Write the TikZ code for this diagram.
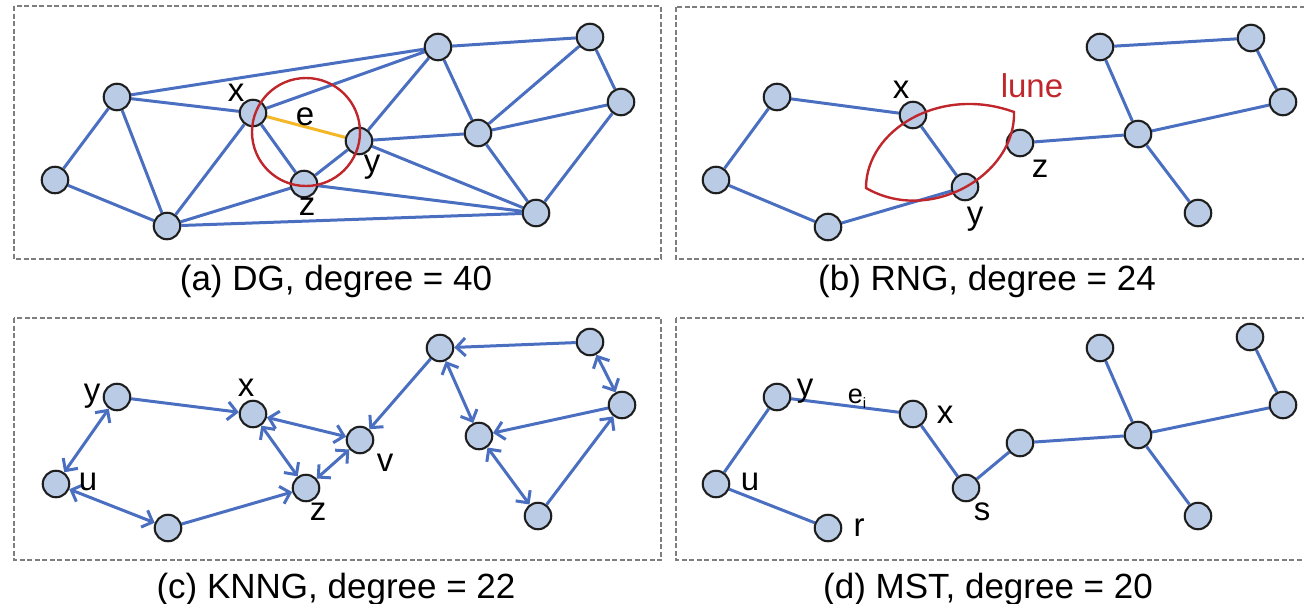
\documentclass[tikz,border=0pt]{standalone}
\usepackage{fontspec}
\setmainfont{Liberation Sans}
\usetikzlibrary{arrows.meta}
\pgfdeclarelayer{bg}
\pgfsetlayers{bg,main}
\definecolor{edgeblue}{HTML}{4A6FC0}
\definecolor{vfill}{HTML}{B9CBE5}
\definecolor{vline}{HTML}{1E1E1E}
\definecolor{boxgray}{HTML}{7E7E7E}
\definecolor{markred}{HTML}{C0272D}
\definecolor{edgeyellow}{HTML}{F4B728}
\begin{document}
\begin{tikzpicture}[x=1pt,y=-1pt,
  vert/.style={circle,draw=vline,line width=2.1pt,fill=vfill,minimum size=26.5pt,inner sep=0pt},
  lnk/.style={draw=edgeblue,line width=3pt},
  arr/.style={lnk,-{Straight Barb[length=9pt,width=18pt]}},
  biarr/.style={lnk,{Straight Barb[length=9pt,width=18pt]}-{Straight Barb[length=9pt,width=18pt]}},
  panel/.style={draw=boxgray,line width=2.6pt,dash pattern=on 5pt off 2.5pt},
  lbl/.style={font=\fontsize{33}{33}\selectfont,anchor=base,inner sep=0pt},
  captxt/.style={font=\fontsize{35}{35}\selectfont,anchor=base,inner sep=0pt},
]
\useasboundingbox (0,0) rectangle (1304,603);

% panel frames
\draw[panel] (14,6) rectangle (661,259);
\draw[panel] (676,7) rectangle (1312,259);
\draw[panel] (14,318) rectangle (661,560);
\draw[panel] (676,318) rectangle (1312,560);

% ---------- (a) Delaunay graph ----------
\node[vert] (a1) at (55,180) {};
\node[vert] (a2) at (117,97) {};
\node[vert] (a3) at (167,226) {};
\node[vert] (ax) at (253,113) {};
\node[vert] (ay) at (359,141) {};
\node[vert] (az) at (304,184) {};
\node[vert] (a7) at (438,47) {};
\node[vert] (a8) at (478,133) {};
\node[vert] (a9) at (536,213) {};
\node[vert] (a10) at (590,37) {};
\node[vert] (a11) at (621,102) {};
\begin{pgfonlayer}{bg}
\draw[lnk] (a1)--(a2) (a1)--(a3) (a2)--(a3) (a2)--(ax) (a2)--(a7)
  (a3)--(ax) (a3)--(az) (a3)--(a9) (ax)--(a7) (ax)--(az)
  (az)--(ay) (az)--(a9) (ay)--(a7) (ay)--(a8) (ay)--(a9)
  (a7)--(a10) (a7)--(a8) (a8)--(a10) (a8)--(a11) (a8)--(a9)
  (a9)--(a11) (a10)--(a11);
\draw[draw=edgeyellow,line width=3pt] (ax)--(ay);
\end{pgfonlayer}
\draw[markred,line width=2.4pt] (306,132) circle[radius=54];
\node[lbl] (lax) at (236,101) {x};
\node[lbl] (lae) at (305,125) {e};
\node[lbl] (lay) at (372,172) {y};
\node[lbl] (laz) at (307,215) {z};
\node[captxt] (capa) at (336,290) {(a) DG, degree = 40};

% ---------- (b) relative neighborhood graph ----------
\node[vert] (b1) at (716,180) {};
\node[vert] (b2) at (777,97) {};
\node[vert] (b3) at (828,227) {};
\node[vert] (bx) at (913,115) {};
\node[vert] (by) at (965,187) {};
\node[vert] (bz) at (1020,143) {};
\node[vert] (b7) at (1100,47) {};
\node[vert] (b8) at (1138,134) {};
\node[vert] (b9) at (1198,213) {};
\node[vert] (b10) at (1251,38) {};
\node[vert] (b11) at (1283,102) {};
\begin{pgfonlayer}{bg}
\draw[lnk] (b1)--(b2) (b1)--(b3) (b2)--(bx) (bx)--(by) (b3)--(by)
  (bz)--(b8) (b7)--(b8) (b7)--(b10) (b10)--(b11) (b11)--(b8) (b8)--(b9);
\end{pgfonlayer}
\draw[markred,line width=2.4pt] (866,188) .. controls (866,130) and (940,85) .. (1014,112)
  .. controls (1016,175) and (930,225) .. (866,188) -- cycle;
\node[lbl] (lbx) at (901,98) {x};
\node[lbl] (lby) at (975,224) {y};
\node[lbl] (lbz) at (1040,177) {z};
\node[lbl,text=markred] (lune) at (1032,97) {lune};
\node[captxt] (capb) at (987,290) {(b) RNG, degree = 24};

% ---------- (c) k-nearest-neighbour graph ----------
\node[vert] (cy) at (117,397) {};
\node[vert] (cx) at (253,414) {};
\node[vert] (cu) at (56,484) {};
\node[vert] (c4) at (168,528) {};
\node[vert] (cz) at (306,488) {};
\node[vert] (cv) at (360,440) {};
\node[vert] (c7) at (440,348) {};
\node[vert] (c8) at (479,436) {};
\node[vert] (c9) at (538,516) {};
\node[vert] (c10) at (590,342) {};
\node[vert] (c11) at (622,405) {};
\begin{pgfonlayer}{bg}
\draw[arr] (cy)--(cx);
\draw[biarr] (cu)--(cy);
\draw[biarr] (cu)--(c4);
\draw[arr] (c4)--(cz);
\draw[biarr] (cx)--(cv);
\draw[biarr] (cx)--(cz);
\draw[biarr] (cz)--(cv);
\draw[arr] (c7)--(cv);
\draw[arr] (c10)--(c7);
\draw[biarr] (c7)--(c8);
\draw[biarr] (c10)--(c11);
\draw[arr] (c11)--(c8);
\draw[biarr] (c8)--(c9);
\draw[arr] (c9)--(c11);
\end{pgfonlayer}
\node[lbl] (lcy) at (92,401) {y};
\node[lbl] (lcx) at (246,396) {x};
\node[lbl] (lcu) at (88,490) {u};
\node[lbl] (lcz) at (318,520) {z};
\node[lbl] (lcv) at (385,471) {v};
\node[captxt] (capc) at (336,598) {(c) KNNG, degree = 22};

% ---------- (d) minimum spanning tree ----------
\node[vert] (dy) at (777,397) {};
\node[vert] (dx) at (913,414) {};
\node[vert] (du) at (716,484) {};
\node[vert] (dr) at (828,528) {};
\node[vert] (ds) at (966,488) {};
\node[vert] (d6) at (1020,443) {};
\node[vert] (d7) at (1100,348) {};
\node[vert] (d8) at (1138,435) {};
\node[vert] (d9) at (1198,516) {};
\node[vert] (d10) at (1250,337) {};
\node[vert] (d11) at (1283,405) {};
\begin{pgfonlayer}{bg}
\draw[lnk] (du)--(dy) (du)--(dr) (dy)--(dx) (dx)--(ds) (ds)--(d6)
  (d6)--(d8) (d7)--(d8) (d8)--(d11) (d8)--(d9) (d10)--(d11);
\end{pgfonlayer}
\node[lbl] (ldy) at (805,396) {y};
\node[lbl,font=\fontsize{27}{27}\selectfont] (lde) at (857,403) {e\raisebox{-5pt}{\fontsize{15}{15}\selectfont i}};
\node[lbl] (ldx) at (945,423) {x};
\node[lbl] (ldu) at (750,490) {u};
\node[lbl] (ldr) at (859,536) {r};
\node[lbl] (lds) at (982,520) {s};
\node[captxt] (capd) at (988,598) {(d) MST, degree = 20};
\end{tikzpicture}
\end{document}
